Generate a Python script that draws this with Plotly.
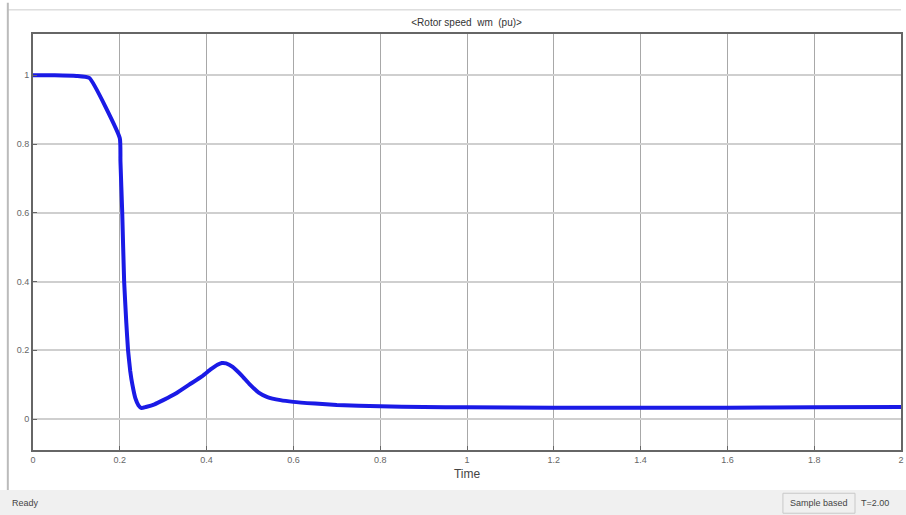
import plotly.graph_objects as go

# Rotor speed wm (pu) vs Time
time = [0.0, 0.05, 0.10, 0.13, 0.20, 0.2015, 0.2056, 0.210, 0.215, 0.219, 0.224, 0.229,
        0.236, 0.243, 0.25, 0.26, 0.28, 0.30, 0.33, 0.36, 0.39, 0.41, 0.425, 0.435,
        0.445, 0.46, 0.48, 0.50, 0.52, 0.54, 0.57, 0.60, 0.65, 0.70, 0.80, 0.90,
        1.0, 1.2, 1.4, 1.6, 1.8, 2.0]
speed = [1.0, 1.0, 0.998, 0.992, 0.817, 0.75, 0.60, 0.40, 0.28, 0.20, 0.14, 0.10,
         0.06, 0.04, 0.032, 0.035, 0.043, 0.055, 0.075, 0.10, 0.125, 0.145, 0.158, 0.163,
         0.162, 0.152, 0.128, 0.10, 0.077, 0.064, 0.055, 0.05, 0.045, 0.041, 0.037, 0.035,
         0.034, 0.033, 0.033, 0.033, 0.034, 0.035]

x_ticks = [0, 0.2, 0.4, 0.6, 0.8, 1, 1.2, 1.4, 1.6, 1.8, 2]
x_tick_labels = ["0", "0.2", "0.4", "0.6", "0.8", "1", "1.2", "1.4", "1.6", "1.8", "2"]
y_ticks = [0, 0.2, 0.4, 0.6, 0.8, 1]
y_tick_labels = ["0", "0.2", "0.4", "0.6", "0.8", "1"]

title_text = "<Rotor speed  wm  (pu)>"

fig = go.Figure()
fig.add_trace(go.Scatter(x=time, y=speed, mode="lines",
                         line=dict(color="#1a1ae6", width=4, shape="spline", smoothing=0.4),
                         showlegend=False))

fig.update_layout(
    width=906, height=515,
    margin=dict(l=33, r=5, t=34, b=65, autoexpand=False),
    paper_bgcolor="white", plot_bgcolor="white",
    font=dict(family="Liberation Sans, Arial, sans-serif", color="#555555", size=9),
    title=dict(text=title_text, x=0.515, xanchor="center", y=0.957, yanchor="middle",
               automargin=False, font=dict(size=10, color="#333333")),
    xaxis=dict(range=[0, 2], tickvals=x_ticks, ticktext=x_tick_labels, automargin=False,
               showgrid=True, gridcolor="#a8a8a8", gridwidth=1,
               showline=True, linecolor="#666666", linewidth=2, mirror=True,
               ticks="inside", ticklen=4, tickcolor="#666666",
               zeroline=False, tickfont=dict(size=9, color="#666666"),
               title=dict(text="Time", font=dict(size=12, color="#444444"), standoff=6)),
    yaxis=dict(range=[-0.09, 1.12], tickvals=y_ticks, ticktext=y_tick_labels, automargin=False,
               showgrid=True, gridcolor="#cfcfcf", gridwidth=2,
               showline=True, linecolor="#666666", linewidth=2, mirror=True,
               ticks="inside", ticklen=4, tickcolor="#666666",
               zeroline=False, tickfont=dict(size=9, color="#666666")),
    shapes=[
        # top toolbar line
        dict(type="line", xref="paper", yref="paper", x0=-0.03, x1=1.0, y0=1.058, y1=1.058,
             line=dict(color="#cccccc", width=1)),
        # left window border
        dict(type="line", xref="paper", yref="paper", x0=-0.029, x1=-0.029, y0=-0.12, y1=1.075,
             line=dict(color="#bbbbbb", width=2)),
        # status bar
        dict(type="rect", xref="paper", yref="paper", x0=-0.04, x1=1.01, y0=-0.17, y1=-0.096,
             fillcolor="#f0f0f0", line=dict(width=0)),
        dict(type="rect", xref="paper", yref="paper", x0=0.864, x1=0.947, y0=-0.152, y1=-0.104,
             fillcolor="rgba(0,0,0,0)", line=dict(color="#c8c8c8", width=1)),
    ],
    annotations=[
        dict(text="Ready", xref="paper", yref="paper", x=-0.026, y=-0.127, xanchor="left",
             yanchor="middle", showarrow=False, font=dict(size=9, color="#444444")),
        dict(text="Sample based", xref="paper", yref="paper", x=0.905, y=-0.128, xanchor="center",
             yanchor="middle", showarrow=False, font=dict(size=9, color="#444444")),
        dict(text="T=2.00", xref="paper", yref="paper", x=0.952, y=-0.128, xanchor="left",
             yanchor="middle", showarrow=False, font=dict(size=9, color="#444444")),
    ],
)

fig.write_html("out.html", config={"displayModeBar": False},
               post_script="document.body.style.margin='0px';document.body.style.overflow='hidden';")
